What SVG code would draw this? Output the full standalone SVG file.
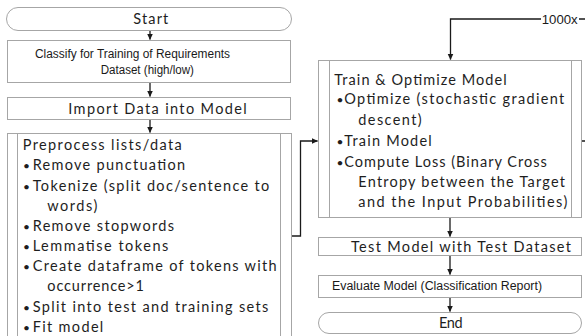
<svg xmlns="http://www.w3.org/2000/svg" width="585" height="336" viewBox="0 0 585 336">
<defs>
<marker id="arr" markerUnits="userSpaceOnUse" markerWidth="7" markerHeight="7" refX="6" refY="3.5" orient="auto">
<path d="M0,0.5 L6.5,3.5 L0,6.5 z" fill="#1a1a1a"/>
</marker>
<style>
.box{fill:#fff;stroke:#a6a6a6;stroke-width:1}
.in{stroke:#a6a6a6;stroke-width:1;fill:none}
.t{font-family:Lato,"Liberation Sans",Arial,sans-serif;font-size:14.5px;fill:#1e1e1e}
.b{font-family:Lato,"Liberation Sans",Arial,sans-serif;font-size:12px;fill:#1e1e1e}
.s{font-family:"Liberation Sans",Arial,sans-serif;font-size:12px;fill:#1a1a1a}
.c{fill:none;stroke:#1a1a1a;stroke-width:1.3}
</style>
</defs>
<rect width="585" height="336" fill="#fff"/>
<g id="connectors">
<path class="c" d="M150,31 V39.5" marker-end="url(#arr)"/>
<path class="c" d="M150,82.5 V96.5" marker-end="url(#arr)"/>
<path class="c" d="M150,119.5 V132.5" marker-end="url(#arr)"/>
<path class="c" d="M292,236 H300.5 V141 H317.5" marker-end="url(#arr)"/>
<path class="c" d="M582,141 H595 V19 H579"/>
<path class="c" d="M541,19 H450.5 V59.5" marker-end="url(#arr)"/>
<path class="c" d="M450,217.5 V236.5" marker-end="url(#arr)"/>
<path class="c" d="M450,255.5 V274.5" marker-end="url(#arr)"/>
<path class="c" d="M450,297.5 V311.5" marker-end="url(#arr)"/>
</g>
<g id="start">
<rect class="box" x="6.5" y="7.5" width="285" height="23" rx="11.5"/>
<text class="t" x="133.3" y="24" textLength="35" lengthAdjust="spacing">Start</text>
</g>
<g id="classify">
<rect class="box" x="7.5" y="40.5" width="283" height="42"/>
<text class="s" x="35" y="57.5" textLength="195" lengthAdjust="spacingAndGlyphs">Classify for Training of Requirements</text>
<text class="s" x="100.7" y="74" textLength="93.3" lengthAdjust="spacingAndGlyphs">Dataset (high/low)</text>
</g>
<g id="import">
<rect class="box" x="7.5" y="97.5" width="283" height="22"/>
<text class="t" x="68.3" y="114" textLength="178.4" lengthAdjust="spacing">Import Data into Model</text>
</g>
<g id="preprocess">
<rect class="box" x="7.5" y="133.5" width="284" height="212"/>
<path class="in" d="M17.5,133.5 V346 M280.5,133.5 V346"/>
<text class="t" x="22.7" y="150" textLength="159" lengthAdjust="spacing">Preprocess lists/data</text>
<text class="b" x="23" y="170">•</text>
<text class="t" x="32.7" y="170" textLength="152.3" lengthAdjust="spacing">Remove punctuation</text>
<text class="b" x="23" y="191">•</text>
<text class="t" x="32.7" y="191" textLength="236.6" lengthAdjust="spacing">Tokenize (split doc/sentence to</text>
<text class="t" x="47.3" y="211" textLength="50" lengthAdjust="spacing">words)</text>
<text class="b" x="23" y="231">•</text>
<text class="t" x="32.7" y="231" textLength="141.3" lengthAdjust="spacing">Remove stopwords</text>
<text class="b" x="23" y="251">•</text>
<text class="t" x="32.7" y="251" textLength="135.6" lengthAdjust="spacing">Lemmatise tokens</text>
<text class="b" x="23" y="271">•</text>
<text class="t" x="32.7" y="271" textLength="244" lengthAdjust="spacing">Create dataframe of tokens with</text>
<text class="t" x="47.3" y="291" textLength="96.7" lengthAdjust="spacing">occurrence&gt;1</text>
<text class="b" x="23" y="312">•</text>
<text class="t" x="32.7" y="312" textLength="235.6" lengthAdjust="spacing">Split into test and training sets</text>
<text class="b" x="23" y="332">•</text>
<text class="t" x="32.7" y="332" textLength="70.6" lengthAdjust="spacing">Fit model</text>
</g>
<g id="train">
<rect class="box" x="318.5" y="60.5" width="263" height="157"/>
<path class="in" d="M329.5,60.5 V217.5 M571.5,60.5 V217.5"/>
<text class="t" x="334.3" y="85" textLength="172.4" lengthAdjust="spacing">Train &amp; Optimize Model</text>
<text class="b" x="336.5" y="104">•</text>
<text class="t" x="344.3" y="104" textLength="220" lengthAdjust="spacing">Optimize (stochastic gradient</text>
<text class="t" x="358.3" y="125" textLength="63.4" lengthAdjust="spacing">descent)</text>
<text class="b" x="336.5" y="146">•</text>
<text class="t" x="344.3" y="146" textLength="87.4" lengthAdjust="spacing">Train Model</text>
<text class="b" x="336.5" y="167">•</text>
<text class="t" x="344.3" y="167" textLength="202.4" lengthAdjust="spacing">Compute Loss (Binary Cross</text>
<text class="t" x="358.3" y="187" textLength="206.7" lengthAdjust="spacing">Entropy between the Target</text>
<text class="t" x="358.3" y="207" textLength="209" lengthAdjust="spacing">and the Input Probabilities)</text>
</g>
<g id="loop-label">
<text class="s" x="541.7" y="23.5" textLength="36" lengthAdjust="spacingAndGlyphs">1000x</text>
</g>
<g id="test">
<rect class="box" x="318.5" y="237.5" width="263" height="18"/>
<text class="t" x="351" y="252" textLength="220" lengthAdjust="spacing">Test Model with Test Dataset</text>
</g>
<g id="evaluate">
<rect class="box" x="318.5" y="275.5" width="263" height="22"/>
<text class="s" x="332" y="289.5" textLength="210" lengthAdjust="spacingAndGlyphs">Evaluate Model (Classification Report)</text>
</g>
<g id="end">
<rect class="box" x="318.5" y="312.5" width="263" height="21" rx="10.5"/>
<text class="t" x="439" y="327.5" textLength="23.7" lengthAdjust="spacing">End</text>
</g>
</svg>
